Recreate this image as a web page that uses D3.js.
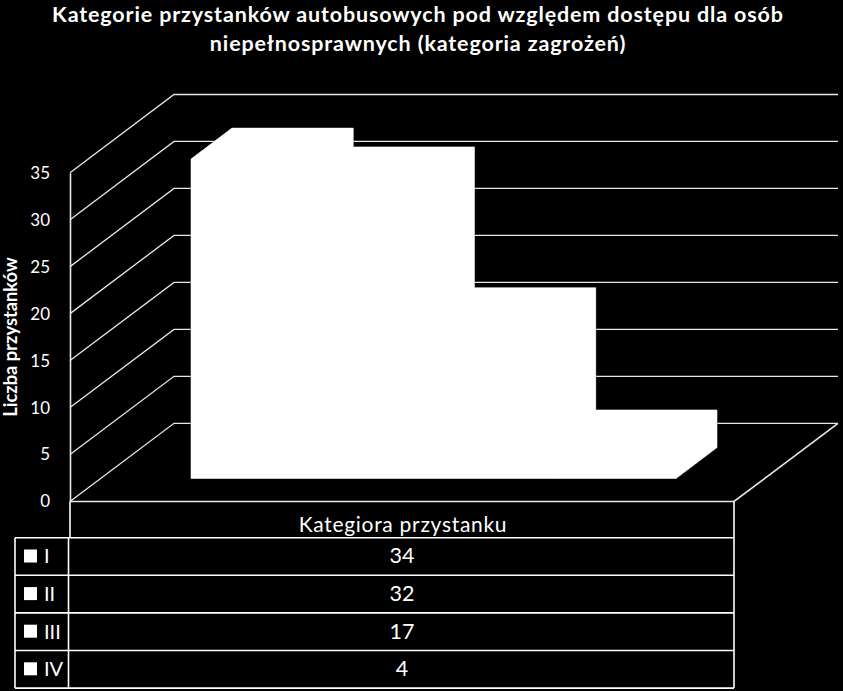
<!DOCTYPE html>
<html>
<head>
<meta charset="utf-8">
<script src="https://d3js.org/d3.v7.min.js"></script>
<style>
  html, body { margin: 0; padding: 0; background: #000; }
  text { fill: #fff; font-family: Lato, "Open Sans", sans-serif; }
</style>
</head>
<body>
<div id="vis"></div>
<script>
const FRAME_WIDTH = 843;
const FRAME_HEIGHT = 691;

// data
const categories = ["I", "II", "III", "IV"];
const values = [34, 32, 17, 4];
const yTicks = [0, 5, 10, 15, 20, 25, 30, 35];
const titleLines = [
  "Kategorie przystanków autobusowych pod względem dostępu dla osób",
  "niepełnosprawnych (kategoria zagrożeń)"
];
const yLabel = "Liczba przystanków";
const xLabel = "Kategiora przystanku";

// plot geometry
const LEFT = 70, RIGHT = 734, FLOOR = 501.5, TOP = 172.7;
const DEPTH_X = 104, DEPTH_Y = -78.2;        // wall offset
const BAR_DX = 41, BAR_DY = -31;             // bar depth
const BAR_LIFT = 23;                         // bars stand inside the floor
const LINE = "#e8e8e8";

const FRAME = d3.select("#vis")
  .append("svg")
  .attr("width", FRAME_WIDTH)
  .attr("height", FRAME_HEIGHT)
  .style("display", "block");

FRAME.append("rect")
  .attr("width", FRAME_WIDTH)
  .attr("height", FRAME_HEIGHT)
  .attr("fill", "#000");

const yScale = d3.scaleLinear().domain([0, 35]).range([FLOOR, TOP]);
const xScale = d3.scaleBand().domain(categories).range([191, 676]);

// title
FRAME.selectAll(".title")
  .data(titleLines)
  .enter()
  .append("text")
  .attr("class", "title")
  .attr("x", 418)
  .attr("y", (d, i) => 21.5 + i * 29)
  .attr("text-anchor", "middle")
  .attr("font-size", 21.5)
  .attr("letter-spacing", 0.85)
  .attr("font-weight", 700)
  .text(d => d);

// grid: front wall edge, then back wall
const grid = FRAME.append("g").attr("fill", "none").attr("stroke", LINE).attr("stroke-width", 1.3);

grid.selectAll(".gridline")
  .data(yTicks)
  .enter()
  .append("path")
  .attr("class", "gridline")
  .attr("d", d => {
    const y = yScale(d);
    return d3.line()([[LEFT, y], [LEFT + DEPTH_X, y + DEPTH_Y], [RIGHT + DEPTH_X, y + DEPTH_Y]]);
  });

// floor
grid.append("path")
  .attr("d", d3.line()([
    [LEFT, FLOOR],
    [RIGHT, FLOOR],
    [RIGHT + DEPTH_X, FLOOR + DEPTH_Y]
  ]))
  .attr("stroke-width", 1.6);

// y axis
const yAxis = FRAME.append("g")
  .attr("transform", "translate(" + LEFT + ",0)")
  .call(d3.axisLeft(yScale).tickValues(yTicks).tickSize(0).tickPadding(20));

yAxis.select(".domain").attr("stroke", LINE).attr("stroke-width", 1.6);
yAxis.selectAll("text")
  .attr("font-size", 17)
  .attr("font-family", "Lato")
  .attr("fill", "#fff");

FRAME.append("text")
  .attr("transform", "translate(17,337) rotate(-90)")
  .attr("text-anchor", "middle")
  .attr("font-size", 18.3)
  .attr("font-weight", 700)
  .text(yLabel);

// bars: outline pass first, then fill over it so only the silhouette edge stays
const barData = categories.map((c, i) => ({category: c, value: values[i]}));

function barPath(d) {
  const x0 = xScale(d.category);
  const x1 = x0 + xScale.bandwidth();
  const yBottom = FLOOR - BAR_LIFT;
  const yTop = yScale(d.value) - BAR_LIFT;
  return d3.line()([
    [x0, yBottom],
    [x0, yTop],
    [x0 + BAR_DX, yTop + BAR_DY],
    [x1 + BAR_DX, yTop + BAR_DY],
    [x1 + BAR_DX, yBottom + BAR_DY],
    [x1, yBottom]
  ]) + "Z";
}

FRAME.selectAll(".bar-edge")
  .data(barData)
  .enter()
  .append("path")
  .attr("class", "bar-edge")
  .attr("d", barPath)
  .attr("fill", "#fff")
  .attr("stroke", "#8c8c8c")
  .attr("stroke-width", 1);

FRAME.selectAll(".bar")
  .data(barData)
  .enter()
  .append("path")
  .attr("class", "bar")
  .attr("d", barPath)
  .attr("fill", "#fff");

// data table
const TABLE_LEFT = 15, TABLE_COL = 68.5, HEADER_TOP = FLOOR, ROWS_TOP = 537.7, ROW_H = 37.6;
const table = FRAME.append("g").attr("stroke", "#fff").attr("stroke-width", 1.6);
const rowY = d3.scaleBand().domain(categories).range([ROWS_TOP, ROWS_TOP + ROW_H * categories.length]);

table.selectAll(".row-line")
  .data(d3.range(categories.length + 1))
  .enter()
  .append("line")
  .attr("class", "row-line")
  .attr("x1", TABLE_LEFT)
  .attr("x2", RIGHT)
  .attr("y1", i => ROWS_TOP + i * ROW_H)
  .attr("y2", i => ROWS_TOP + i * ROW_H);

table.append("line")
  .attr("x1", TABLE_LEFT).attr("x2", TABLE_LEFT)
  .attr("y1", ROWS_TOP).attr("y2", ROWS_TOP + ROW_H * categories.length);
table.append("line")
  .attr("x1", TABLE_COL).attr("x2", TABLE_COL)
  .attr("y1", ROWS_TOP).attr("y2", ROWS_TOP + ROW_H * categories.length);
table.append("line")
  .attr("x1", LEFT).attr("x2", LEFT)
  .attr("y1", HEADER_TOP).attr("y2", ROWS_TOP);
table.append("line")
  .attr("x1", RIGHT).attr("x2", RIGHT)
  .attr("y1", HEADER_TOP).attr("y2", ROWS_TOP + ROW_H * categories.length);

FRAME.append("text")
  .attr("x", 403)
  .attr("y", 532)
  .attr("text-anchor", "middle")
  .attr("font-size", 21)
  .attr("letter-spacing", 0.7)
  .text(xLabel);

const rows = FRAME.selectAll(".row")
  .data(barData)
  .enter()
  .append("g")
  .attr("class", "row")
  .attr("transform", d => "translate(0," + rowY(d.category) + ")");

rows.append("rect")
  .attr("x", 24)
  .attr("y", ROW_H / 2 - 7)
  .attr("width", 13)
  .attr("height", 13)
  .attr("fill", "#fff");

rows.append("text")
  .attr("x", 44)
  .attr("y", ROW_H / 2 + 7)
  .attr("font-size", 20)
  .text(d => d.category);

rows.append("text")
  .attr("x", 402)
  .attr("y", ROW_H / 2 + 7)
  .attr("text-anchor", "middle")
  .attr("font-size", 21.5)
  .text(d => d.value);
</script>
</body>
</html>
